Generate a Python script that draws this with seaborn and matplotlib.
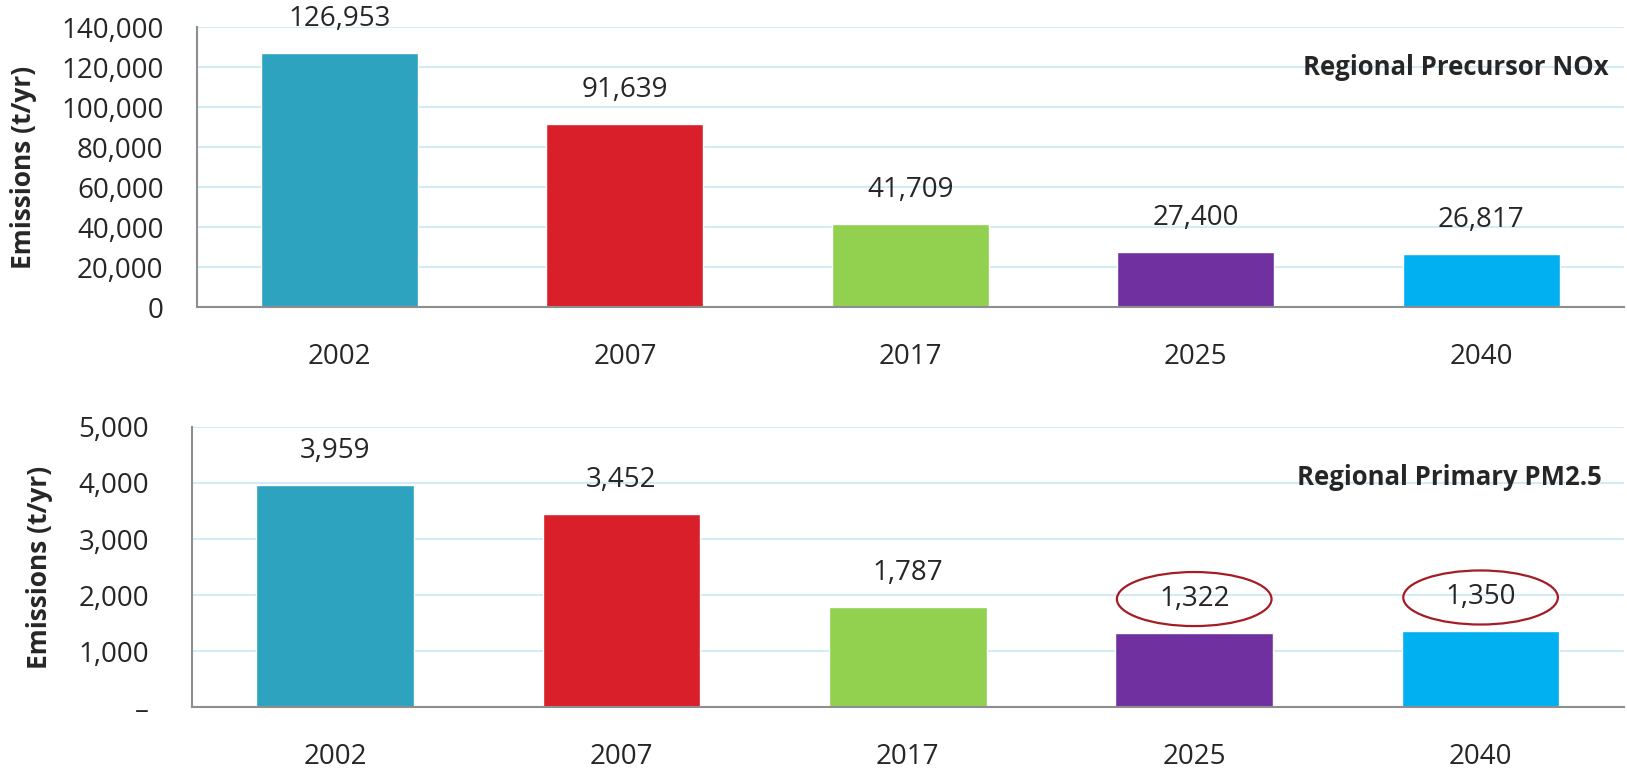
import matplotlib
matplotlib.use("Agg")
import matplotlib.pyplot as plt
import seaborn as sns
import pandas as pd
from matplotlib.patches import Ellipse
from matplotlib.ticker import FuncFormatter, FixedLocator
from matplotlib.transforms import offset_copy

# --- Data ---
years = ["2002", "2007", "2017", "2025", "2040"]
nox = [126953, 91639, 41709, 27400, 26817]
pm25 = [3959, 3452, 1787, 1322, 1350]
bar_colors = ["#2ea3bf", "#d9202a", "#92d050", "#7030a0", "#00b0f0"]
circled = ["2025", "2040"]

sns.set_style("white")
plt.rcParams["font.family"] = ["Open Sans", "DejaVu Sans"]

grid_col = "#d3ebf5"
spine_col = "#8e8e8e"

fig = plt.figure(figsize=(16.27, 7.72), dpi=100)
ax1 = fig.add_axes([0.121, 0.602, 0.877, 0.363])
ax2 = fig.add_axes([0.118, 0.084, 0.880, 0.363])


def draw_panel(ax, values, ymax, step, title, title_xy, ylab_x, ypad, zero_dash):
    df = pd.DataFrame({"Year": years, "Emissions": values})
    sns.barplot(data=df, x="Year", y="Emissions", hue="Year", palette=bar_colors,
                width=0.55, legend=False, ax=ax, saturation=1)
    ax.set_xlim(-0.5, len(years) - 0.5)
    ax.set_ylim(0, ymax)
    ax.yaxis.set_major_locator(FixedLocator(list(range(0, ymax + 1, step))))
    if zero_dash:
        ax.yaxis.set_major_formatter(FuncFormatter(lambda v, p: "\u2013" if v == 0 else f"{int(v):,}"))
    else:
        ax.yaxis.set_major_formatter(FuncFormatter(lambda v, p: f"{int(v):,}"))
    ax.grid(axis="y", color=grid_col, linewidth=1.5)
    ax.set_axisbelow(True)
    for s in ["top", "right"]:
        ax.spines[s].set_visible(False)
    for s in ["left", "bottom"]:
        ax.spines[s].set_color(spine_col)
        ax.spines[s].set_linewidth(1.5)
    ax.tick_params(axis="y", length=7, width=1.5, color=spine_col, pad=ypad, labelsize=20)
    ax.tick_params(axis="x", which="major", length=0, pad=26, labelsize=20)
    ax.set_xticks([i - 0.5 for i in range(len(years) + 1)], minor=True)
    ax.tick_params(axis="x", which="minor", length=8, width=1.5, color=spine_col)
    ax.set_xlabel("")
    ax.set_ylabel("Emissions (t/yr)", fontsize=19, fontweight="bold")
    ax.yaxis.set_label_coords(ylab_x, 0.5)
    ax.text(title_xy[0], title_xy[1], title, transform=ax.transAxes, ha="right", va="center",
            fontsize=18.5, fontweight="bold")

    lift = offset_copy(ax.transData, fig=fig, x=0, y=34, units="dots")
    for i, (yr, v) in enumerate(zip(years, values)):
        ax.annotate(f"{v:,}", (i, v), xytext=(0, 34), textcoords="offset pixels",
                    ha="center", va="center", fontsize=20)
        if zero_dash and yr in circled:
            ax.add_patch(Ellipse((i, v), 0.54, ymax * 54 / 280, transform=lift,
                                 fill=False, edgecolor="#a51c24", linewidth=1.6))


draw_panel(ax1, nox, 140000, 20000, "Regional Precursor NOx", (0.9895, 0.857), -0.112, 17, False)
draw_panel(ax2, pm25, 5000, 1000, "Regional Primary PM2.5", (0.985, 0.818), -0.097, 24, True)

fig.savefig("out.png", dpi=100)
